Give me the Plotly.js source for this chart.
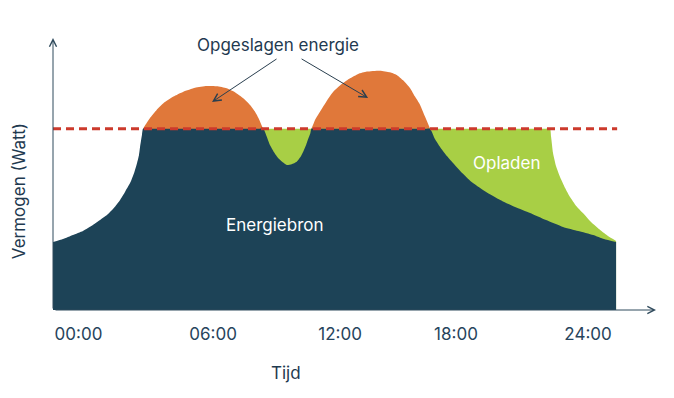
<!DOCTYPE html>
<html>
<head>
<meta charset="utf-8">
<script src="https://cdn.plot.ly/plotly-3.0.1.min.js"></script>
<style>html,body{margin:0;padding:0;background:#fff;}#chart{width:674px;height:398px;}</style>
</head>
<body>
<div id="chart"></div>
<script>
// Energiebron (source power actually used), hours vs watts (schematic units)
const timeSource = [-1.2,-0.73,-0.26,0.21,0.68,1.01,1.34,1.67,1.96,2.19,2.43,2.62,2.76,2.85,2.90,2.95,2.99,3.04,3.2,
  8.5,8.71,8.87,9.02,9.21,9.41,9.62,9.81,10.04,10.28,10.47,10.59,10.72,10.83,10.92,10.97,11.1,
  16.4,16.56,16.79,17.03,17.31,17.64,18.07,18.58,19.20,19.86,20.56,21.27,22.02,22.82,23.53,24.24,24.75,25.32];
const powerSource = [37.5,39.2,41.4,43.6,46.9,49.6,52.4,56.3,60.7,65.1,70.0,75.6,81.1,85.5,89.9,93.8,96.5,100,100,
  100,100,95.6,91.0,87.0,83.7,81.5,80.0,80.4,81.8,84.6,87.4,91.0,94.7,97.5,100,100,
  100,100,94.3,89.9,85.5,81.1,75.6,70.0,65.1,60.7,56.8,53.5,49.6,45.8,43.6,41.4,39.2,37.5];
// Opgeslagen energie (production curve over the two humps)
const timeStored = [3.04,3.21,3.37,3.68,4.0,4.47,4.94,5.49,6.04,6.51,6.98,7.37,7.76,8.08,8.31,8.52,8.70,
  9.81,10.97,11.14,11.38,11.69,12.0,12.40,12.79,13.18,13.58,14.20,14.67,14.99,15.30,15.62,15.85,16.09,16.32,16.56];
const powerStored = [100,103.1,105.9,110.3,114.0,117.7,120.4,122.6,123.5,123.4,122.3,120.1,116.8,113.1,109.4,104.8,100,
  80,100,104.8,109.4,115.3,120.4,124.6,127.8,130.2,131.5,132.0,131.1,129.6,126.5,122.3,117.7,113.1,106.7,100];
// Opladen (charging boundary)
const timeCharge = [8.70,22.0,22.21,22.26,22.35,22.49,22.68,22.92,23.15,23.44,23.76,24.14,24.57,24.94,25.32];
const powerCharge = [100,100,100,95.4,86.6,79.4,73.4,67.3,62.3,57.4,53.5,48.5,44.1,40.8,38.1];
// Limit (dashed)
const timeLimit = [-1.2, 25.37];
const powerLimit = [100, 100];
// Ticks
const tickHours = [0, 6.34, 12.32, 17.78, 24];
const tickLabels = ["00:00", "06:00", "12:00", "18:00", "24:00"];

const DARK = "#1d4357", ORANGE = "#e0783a", GREEN = "#a8cf45", RED = "#cc3a2c", TEXT = "#1f3a50";
const FONT = "Inter, 'Noto Sans', sans-serif";

const traces = [
  {x: timeStored, y: powerStored, type: "scatter", mode: "lines", fill: "tozeroy",
   fillcolor: ORANGE, line: {color: ORANGE, width: 0, shape: "spline", smoothing: 0.5}, hoverinfo: "skip"},
  {x: timeCharge, y: powerCharge, type: "scatter", mode: "lines", fill: "tozeroy",
   fillcolor: GREEN, line: {color: GREEN, width: 0, shape: "spline", smoothing: 0.5}, hoverinfo: "skip"},
  {x: timeSource, y: powerSource, type: "scatter", mode: "lines", fill: "tozeroy",
   fillcolor: DARK, line: {color: DARK, width: 0, shape: "spline", smoothing: 0.5}, hoverinfo: "skip"},
  {x: timeLimit, y: powerLimit, type: "scatter", mode: "lines",
   line: {color: RED, width: 3, dash: "8px,5px"}, hoverinfo: "skip"}
];

const layout = {
  width: 674, height: 398,
  margin: {l: 53, r: 18, t: 38, b: 88},
  paper_bgcolor: "#fff", plot_bgcolor: "#fff",
  showlegend: false,
  font: {family: FONT, color: TEXT},
  xaxis: {range: [-1.2, 27.2], showgrid: false, zeroline: false, showline: false,
          tickvals: tickHours, ticktext: tickLabels, ticks: "", ticklabelstandoff: 12,
          tickfont: {family: FONT, size: 17, color: "#27445c"}, fixedrange: true},
  yaxis: {range: [0, 150], showgrid: false, zeroline: false, showline: false,
          showticklabels: false, fixedrange: true},
  annotations: [
    // axes arrows
    {xref: "paper", yref: "paper", x: 0, y: 1, ax: 0, ay: 272, axref: "pixel", ayref: "pixel",
     showarrow: true, arrowhead: 5, arrowsize: 1.4, arrowwidth: 1, arrowcolor: "#2f4a5c", text: ""},
    {xref: "paper", yref: "paper", x: 1, y: 0, ax: -602, ay: 0, axref: "pixel", ayref: "pixel",
     showarrow: true, arrowhead: 5, arrowsize: 1.4, arrowwidth: 1, arrowcolor: "#2f4a5c", text: ""},
    // titles
    {xref: "paper", yref: "paper", x: 0.386, y: -0.2316, xanchor: "center", yanchor: "middle",
     text: "Tijd", showarrow: false, font: {family: FONT, size: 17, color: TEXT}},
    {xref: "paper", yref: "paper", x: -0.056, y: 0.4375, xanchor: "center", yanchor: "middle",
     text: "Vermogen (Watt)", textangle: -90,
     showarrow: false, font: {family: FONT, size: 17, color: TEXT}},
    // labels
    {xref: "x", yref: "y", x: 9.4, y: 146.2, xanchor: "center", yanchor: "middle",
     text: "Opgeslagen energie", showarrow: false, font: {family: FONT, size: 17, color: TEXT}},
    {xref: "x", yref: "y", x: 9.26, y: 46.9, xanchor: "center", yanchor: "middle",
     text: "Energiebron", showarrow: false, font: {family: FONT, size: 17, color: "#ffffff"}},
    {xref: "x", yref: "y", x: 20.18, y: 81.1, xanchor: "center", yanchor: "middle",
     text: "Opladen", showarrow: false, font: {family: FONT, size: 17, color: "#ffffff"}},
    // pointer arrows
    {xref: "x", yref: "y", x: 6.29, y: 114.7, ax: 66, ay: -44, axref: "pixel", ayref: "pixel",
     showarrow: true, arrowhead: 5, arrowsize: 1.5, arrowwidth: 1, arrowcolor: "#2a3f4f", text: ""},
    {xref: "x", yref: "y", x: 13.64, y: 116.9, ax: -68, ay: -40, axref: "pixel", ayref: "pixel",
     showarrow: true, arrowhead: 5, arrowsize: 1.5, arrowwidth: 1, arrowcolor: "#2a3f4f", text: ""}
  ]
};

Plotly.newPlot("chart", traces, layout, {displayModeBar: false, staticPlot: true});
</script>
</body>
</html>
